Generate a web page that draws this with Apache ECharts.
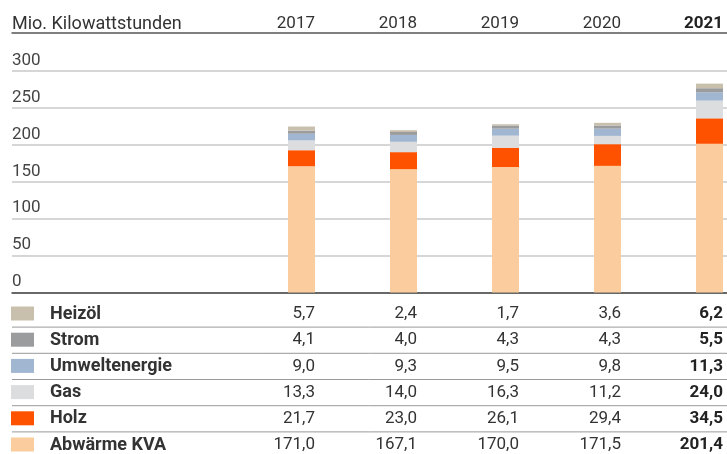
<!DOCTYPE html>
<html>
<head>
<meta charset="utf-8">
<script src="https://cdn.jsdelivr.net/npm/echarts@6/dist/echarts.min.js"></script>
<style>
  html, body { margin: 0; padding: 0; background: #fff; }
  #chart { width: 727px; height: 454px; }
</style>
</head>
<body>
<div id="chart"></div>
<script>
// data (Mio. kWh)
const years = ['2017', '2018', '2019', '2020', '2021'];
const heizoel = [5.7, 2.4, 1.7, 3.6, 6.2];
const strom = [4.1, 4.0, 4.3, 4.3, 5.5];
const umwelt = [9.0, 9.3, 9.5, 9.8, 11.3];
const gas = [13.3, 14.0, 16.3, 11.2, 24.0];
const holz = [21.7, 23.0, 26.1, 29.4, 34.5];
const abwaerme = [171.0, 167.1, 170.0, 171.5, 201.4];
const yMin = 0;
const yMax = 300;
const yStep = 50;
const unitLabel = 'Mio. Kilowattstunden';

// stacking order bottom -> top
const rows = [
  { name: 'Abwärme KVA', data: abwaerme, color: '#FBCC9D' },
  { name: 'Holz', data: holz, color: '#FF5200' },
  { name: 'Gas', data: gas, color: '#DCDDDE' },
  { name: 'Umweltenergie', data: umwelt, color: '#A1B6D0' },
  { name: 'Strom', data: strom, color: '#9B9C9E' },
  { name: 'Heizöl', data: heizoel, color: '#C8C0AD' }
];
const tableRows = rows.slice().reverse();

const FONT = 'Roboto, "DejaVu Sans", sans-serif';
const W = 727;
const gridTop = 71;
const gridBottom = 161.5;
const barWidth = 27;
const barLeft = 250.5;     // left edge of the bar band area
const barStep = 102;       // px per year
const rowTop = 314;
const rowStep = 26.2;

const fmt = v => v.toFixed(1).replace('.', ',');

const chart = echarts.init(document.getElementById('chart'));

chart.setOption({
  animation: false,
  textStyle: { fontFamily: FONT },
  grid: [
    { left: 12, right: 0, top: gridTop, bottom: gridBottom },
    {
      left: barLeft, width: barStep * years.length, top: gridTop, bottom: gridBottom,
      containLabel: false, outerBoundsMode: 'none'
    }
  ],
  xAxis: [
    {
      gridIndex: 0, type: 'category', data: years,
      axisLine: { lineStyle: { color: '#444', width: 1.5 } },
      axisTick: { show: false }, axisLabel: { show: false }
    },
    {
      gridIndex: 0, type: 'category', data: years, position: 'top', offset: gridTop - 33,
      axisLine: { lineStyle: { color: '#555', width: 1.5 } },
      axisTick: { show: false }, axisLabel: { show: false }
    },
    {
      gridIndex: 1, type: 'category', data: years, show: false
    }
  ],
  yAxis: [
    {
      gridIndex: 0, type: 'value', min: yMin, max: yMax, interval: yStep,
      axisLine: { show: false }, axisTick: { show: false },
      splitLine: { lineStyle: { color: '#c8c8c8', width: 1.5 } },
      axisLabel: {
        inside: true, margin: 0, verticalAlign: 'bottom', padding: [0, 0, 2, 0],
        color: '#444', fontSize: 17, fontFamily: FONT
      }
    },
    {
      gridIndex: 1, type: 'value', min: yMin, max: yMax, interval: yStep, show: false
    }
  ],
  series: rows.map(r => ({
    name: r.name, type: 'bar', stack: 'total',
    xAxisIndex: 2, yAxisIndex: 1,
    barWidth: barWidth,
    itemStyle: { color: r.color },
    data: r.data
  }))
});

// header, legend rows and value table, placed via the bar axis
const graphics = [];
graphics.push({
  type: 'text', x: 12, y: 24,
  style: { text: unitLabel, fontSize: 18, fill: '#333', fontFamily: FONT, verticalAlign: 'middle' }
});
tableRows.forEach((r, k) => {
  const cy = rowTop + rowStep * k;
  graphics.push({
    type: 'rect', silent: true,
    shape: { x: 11, y: cy - 7.5, width: 23, height: 14 },
    style: { fill: r.color }
  });
  graphics.push({
    type: 'text', x: 50, y: cy,
    style: {
      text: r.name, fontSize: 18, fontWeight: 'bold', fill: '#333',
      fontFamily: FONT, verticalAlign: 'middle'
    }
  });
});
years.forEach((y, i) => {
  const xr = chart.convertToPixel({ xAxisIndex: 2 }, i) + barWidth / 2;
  const bold = i === years.length - 1;
  graphics.push({
    type: 'text', x: xr, y: 24,
    style: {
      text: y, fontSize: 17, fill: bold ? '#222' : '#333', fontWeight: bold ? 'bold' : 'normal',
      fontFamily: FONT, align: 'right', verticalAlign: 'middle'
    }
  });
  tableRows.forEach((r, k) => {
    graphics.push({
      type: 'text', x: xr, y: rowTop + rowStep * k,
      style: {
        text: fmt(r.data[i]), fontSize: 17, fill: bold ? '#222' : '#333',
        fontWeight: bold ? 'bold' : 'normal',
        fontFamily: FONT, align: 'right', verticalAlign: 'middle'
      }
    });
  });
});
for (let k = 0; k < tableRows.length - 1; k++) {
  const yy = rowTop + rowStep * k + rowStep / 2;
  graphics.push({
    type: 'line', silent: true,
    shape: { x1: 12, y1: yy, x2: W, y2: yy },
    style: { stroke: '#999', lineWidth: 1 }
  });
}
chart.setOption({ graphic: graphics });
</script>
</body>
</html>
